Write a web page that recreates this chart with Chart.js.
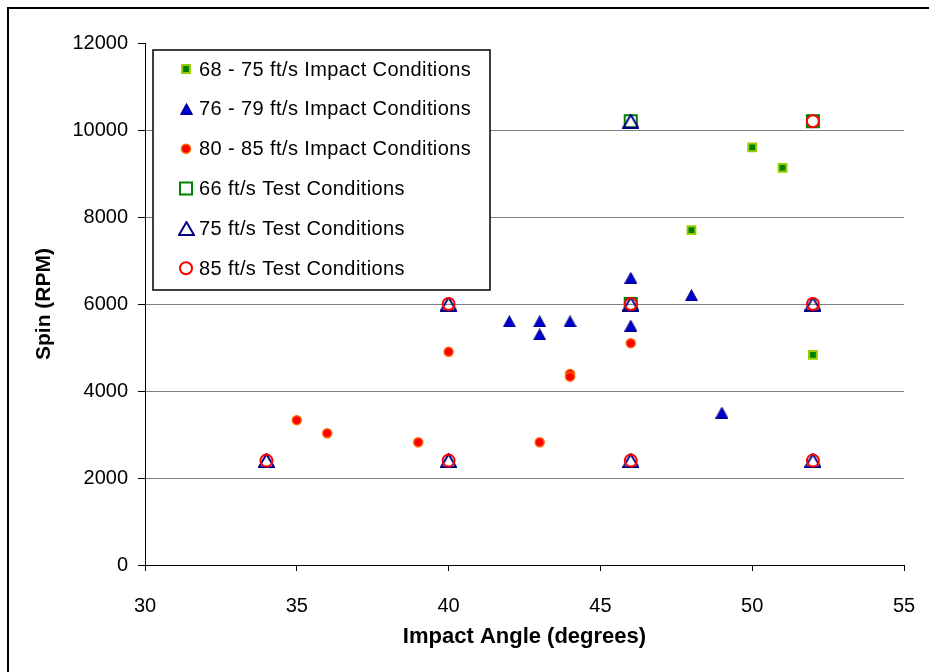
<!DOCTYPE html>
<html>
<head>
<meta charset="utf-8">
<title>Spin vs Impact Angle</title>
<script src="https://cdn.jsdelivr.net/npm/chart.js"></script>
<style>
  html, body { margin: 0; padding: 0; background: #fff; }
  #wrap { width: 929px; height: 672px; }
</style>
</head>
<body>
<div id="wrap"><canvas id="spinChart" width="929" height="672"></canvas></div>
<script>
// impact angle (degrees), spin (rpm)
const seriesLabels = [
    '68 - 75 ft/s Impact Conditions',
    '76 - 79 ft/s Impact Conditions',
    '80 - 85 ft/s Impact Conditions',
    '66 ft/s Test Conditions',
    '75 ft/s Test Conditions',
    '85 ft/s Test Conditions'
];
const impact68to75 = [[50, 9600], [51, 9130], [48, 7700], [52, 4830]];
const impact76to79 = [[42, 5600], [43, 5600], [43, 5300], [44, 5600], [46, 5500], [46, 6600], [48, 6200], [49, 3500]];
const impact80to85 = [[35, 3330], [36, 3030], [39, 2820], [40, 4900], [43, 2820], [44, 4390], [44, 4330], [46, 5100]];
const test66 = [[46, 10200], [52, 10200], [46, 6000]];
const test75 = [[34, 2400], [40, 2400], [46, 2400], [52, 2400], [40, 6000], [46, 6000], [52, 6000], [46, 10200]];
const test85 = [[34, 2400], [40, 2400], [46, 2400], [52, 2400], [40, 6000], [46, 6000], [52, 6000], [52, 10200]];
const xTicks = [30, 35, 40, 45, 50, 55];
const yTicks = [0, 2000, 4000, 6000, 8000, 10000, 12000];

const FONT = "'Liberation Sans', Arial, sans-serif";
const CLEAR = 'rgba(0,0,0,0)';

// excel style triangles, centred on their bounding box
function makeTriangle(w, h, fill, stroke, lw) {
    const c = document.createElement('canvas');
    c.width = w;
    c.height = h;
    const g = c.getContext('2d');
    const p = lw / 2;
    g.beginPath();
    g.moveTo(w / 2, p);
    g.lineTo(w - p, h - p);
    g.lineTo(p, h - p);
    g.closePath();
    g.fillStyle = fill;
    g.fill();
    g.lineWidth = lw;
    g.strokeStyle = stroke;
    g.stroke();
    return c;
}
const solidTri = makeTriangle(13, 12, '#0000CC', '#000080', 1);
const openTri = makeTriangle(17, 15, CLEAR, '#000080', 2);

const toPts = arr => arr.map(([x, y]) => ({ x, y }));

const datasets = [
    { label: seriesLabels[0], data: toPts(impact68to75), pointStyle: 'rect', pointRadius: 5.5,
      backgroundColor: '#008000', borderColor: '#99CC00', borderWidth: 2, order: 6 },
    { label: seriesLabels[1], data: toPts(impact76to79), pointStyle: solidTri, pointRadius: 6,
      backgroundColor: '#0000CC', borderColor: '#000080', borderWidth: 1, order: 5 },
    { label: seriesLabels[2], data: toPts(impact80to85), pointStyle: 'circle', pointRadius: 4.5,
      backgroundColor: '#FF0000', borderColor: '#FF6600', borderWidth: 1.5, order: 4 },
    { label: seriesLabels[3], data: toPts(test66), pointStyle: 'rect', pointRadius: 8.5,
      backgroundColor: CLEAR, borderColor: '#008000', borderWidth: 2, order: 3 },
    { label: seriesLabels[4], data: toPts(test75), pointStyle: openTri, pointRadius: 8,
      backgroundColor: CLEAR, borderColor: '#000080', borderWidth: 2, order: 2 },
    { label: seriesLabels[5], data: toPts(test85), pointStyle: 'circle', pointRadius: 6,
      backgroundColor: CLEAR, borderColor: '#FF0000', borderWidth: 2, order: 1 }
];
datasets.forEach(d => { d.pointHoverRadius = d.pointRadius; d.showLine = false; });

// legend box inside the plot, plus the outer frame of the figure
const legendBox = { left: 153, top: 50, right: 490, bottom: 290, markerX: 186, textX: 199, firstRow: 69, rowStep: 39.85 };

function drawLegendMarker(ctx, ds, x, y) {
    if (ds.pointStyle instanceof HTMLCanvasElement) {
        ctx.drawImage(ds.pointStyle, Math.round(x - ds.pointStyle.width / 2), Math.round(y - ds.pointStyle.height / 2));
        return;
    }
    ctx.beginPath();
    if (ds.pointStyle === 'rect') {
        const s = ds.pointRadius * Math.SQRT1_2;
        ctx.rect(x - s, y - s, 2 * s, 2 * s);
    } else {
        ctx.arc(x, y, ds.pointRadius, 0, Math.PI * 2);
    }
    ctx.fillStyle = ds.backgroundColor;
    ctx.fill();
    ctx.lineWidth = ds.borderWidth;
    ctx.strokeStyle = ds.borderColor;
    ctx.stroke();
}

const decorations = {
    id: 'decorations',
    afterDatasetsDraw(chart) {
        const ctx = chart.ctx;
        const b = legendBox;
        ctx.save();
        ctx.fillStyle = '#FFFFFF';
        ctx.fillRect(b.left, b.top, b.right - b.left, b.bottom - b.top);
        ctx.lineWidth = 1.5;
        ctx.strokeStyle = '#000000';
        ctx.strokeRect(b.left, b.top, b.right - b.left, b.bottom - b.top);
        ctx.font = '20px ' + FONT;
        ctx.letterSpacing = '0.4px';
        ctx.textBaseline = 'middle';
        ctx.textAlign = 'left';
        chart.data.datasets.forEach((ds, i) => {
            const y = b.firstRow + i * b.rowStep;
            drawLegendMarker(ctx, ds, b.markerX, y);
            ctx.fillStyle = '#000000';
            ctx.fillText(ds.label, b.textX, y + 1);
        });
        ctx.restore();
    },
    afterDraw(chart) {
        const ctx = chart.ctx;
        ctx.save();
        ctx.lineWidth = 2;
        ctx.strokeStyle = '#000000';
        ctx.beginPath();
        ctx.moveTo(8, chart.height);
        ctx.lineTo(8, 8);
        ctx.lineTo(chart.width, 8);
        ctx.stroke();
        ctx.restore();
    }
};

const ctx = document.getElementById('spinChart').getContext('2d');
new Chart(ctx, {
    type: 'scatter',
    data: { datasets },
    options: {
        responsive: false,
        animation: false,
        devicePixelRatio: 1,
        layout: { padding: { left: 0, right: 25, top: 43, bottom: 0 } },
        plugins: {
            legend: { display: false },
            tooltip: { enabled: false }
        },
        events: [],
        scales: {
            x: {
                type: 'linear',
                min: xTicks[0],
                max: xTicks[xTicks.length - 1],
                afterBuildTicks: scale => { scale.ticks = xTicks.map(v => ({ value: v })); },
                afterFit: scale => {
                    scale.height = 107;
                    // tick padding should not eat into the plot width
                    scale.paddingLeft = 0;
                    scale.paddingRight = 0;
                },
                grid: { drawOnChartArea: false, drawTicks: true, tickLength: 6, color: '#000000', tickColor: '#000000' },
                border: { display: true, color: '#000000', width: 1 },
                ticks: { color: '#000000', padding: 23, font: { family: FONT, size: 20 }, callback: v => String(v) },
                title: {
                    display: true,
                    text: 'Impact Angle (degrees)',
                    color: '#000000',
                    font: { family: FONT, size: 22, weight: 'bold' },
                    padding: { top: 22, bottom: 22 }
                }
            },
            y: {
                type: 'linear',
                min: yTicks[0],
                max: yTicks[yTicks.length - 1],
                afterBuildTicks: scale => { scale.ticks = yTicks.map(v => ({ value: v })); },
                afterFit: scale => { scale.width = 145; },
                grid: {
                    drawTicks: true,
                    tickLength: 7,
                    tickColor: '#000000',
                    color: c => (c.tick && (c.tick.value === 0 || c.tick.value === 12000)) ? CLEAR : '#808080'
                },
                border: { display: true, color: '#000000', width: 1 },
                ticks: { color: '#000000', padding: 10, font: { family: FONT, size: 20 }, callback: v => String(v) },
                title: {
                    display: true,
                    text: 'Spin (RPM)',
                    color: '#000000',
                    font: { family: FONT, size: 21, weight: 'bold' },
                    padding: { top: 32, bottom: 32 }
                }
            }
        }
    },
    plugins: [decorations]
});
</script>
</body>
</html>
